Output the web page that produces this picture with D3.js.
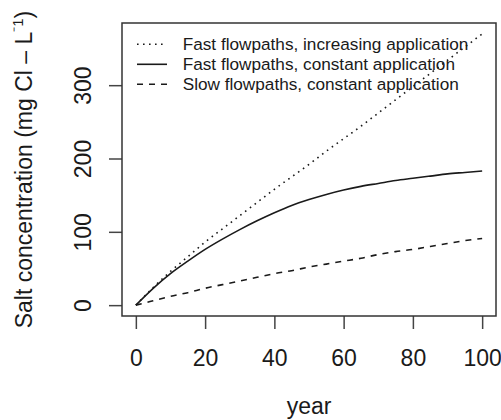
<!DOCTYPE html>
<html>
<head>
<meta charset="utf-8">
<script src="https://cdn.jsdelivr.net/npm/d3@7"></script>
<style>
  body { margin: 0; background: #fff; }
  svg { display: block; font-family: "Liberation Sans", Arial, sans-serif; }
</style>
</head>
<body>
<div id="chart"></div>
<script>
// Data
var years = [0, 5, 10, 15, 20, 25, 30, 35, 40, 45, 50, 55, 60, 65, 70, 75, 80, 85, 90, 95, 100];
var fastIncreasing = [0, 24, 46, 66, 86, 104, 122, 140, 158, 175, 192, 210, 227, 244, 262, 280, 298, 316, 334, 352, 370];
var fastConstant = [0, 23, 43, 60, 76, 90, 103, 115, 126, 136, 144, 151, 157, 162, 166, 170, 173, 176, 179, 181, 183];
var slowConstant = [0, 6, 12, 17, 23, 28, 33, 38, 43, 47, 52, 56, 60, 64, 69, 73, 76, 80, 84, 88, 91];
var xTicks = [0, 20, 40, 60, 80, 100];
var yTicks = [0, 100, 200, 300];
var legendLabels = [
  "Fast flowpaths, increasing application",
  "Fast flowpaths, constant application",
  "Slow flowpaths, constant application"
];

var svgWidth = 501;
var svgHeight = 420;

var margin = { top: 23, right: 5, bottom: 104, left: 122 };
var width = svgWidth - margin.left - margin.right;
var height = svgHeight - margin.top - margin.bottom;

var svg = d3.select("#chart")
  .append("svg")
  .attr("width", svgWidth)
  .attr("height", svgHeight);

var chartGroup = svg.append("g")
  .attr("transform", `translate(${margin.left}, ${margin.top})`);

// R style 4% padding on both axes
var xScale = d3.scaleLinear()
  .domain([-4, 104])
  .range([0, width]);

var yScale = d3.scaleLinear()
  .domain([-14.8, 384.8])
  .range([height, 0]);

// Axes
var bottomAxis = d3.axisBottom(xScale).tickValues(xTicks).tickSize(13).tickSizeOuter(0);
var leftAxis = d3.axisLeft(yScale).tickValues(yTicks).tickSize(13).tickSizeOuter(0);

var xAxisG = chartGroup.append("g")
  .attr("transform", `translate(0, ${height})`)
  .call(bottomAxis);

xAxisG.select(".domain").remove();
xAxisG.selectAll("line").attr("stroke", "#444").attr("stroke-width", 1.5);
xAxisG.selectAll("text")
  .attr("y", 49.7)
  .attr("dy", 0)
  .attr("font-size", 23)
  .attr("font-family", "Liberation Sans, Arial, sans-serif")
  .attr("fill", "#1a1a1a");

var yAxisG = chartGroup.append("g")
  .call(leftAxis);

yAxisG.select(".domain").remove();
yAxisG.selectAll("line").attr("stroke", "#444").attr("stroke-width", 1.5);
yAxisG.selectAll("text")
  .attr("x", 0)
  .attr("dy", 0)
  .attr("text-anchor", "middle")
  .attr("transform", "translate(-31.5, 0) rotate(-90)")
  .attr("font-size", 23)
  .attr("font-family", "Liberation Sans, Arial, sans-serif")
  .attr("fill", "#1a1a1a");

// Lines
var series = [
  { values: fastIncreasing, dash: "1.6,4.4" },
  { values: fastConstant, dash: null },
  { values: slowConstant, dash: "6,6" }
];

var line = d3.line()
  .x(d => xScale(d[0]))
  .y(d => yScale(d[1]))
  .curve(d3.curveMonotoneX);

series.forEach(function(s) {
  chartGroup.append("path")
    .datum(years.map((y, i) => [y, s.values[i]]))
    .attr("d", line)
    .attr("fill", "none")
    .attr("stroke", "#1a1a1a")
    .attr("stroke-width", 1.6)
    .attr("stroke-dasharray", s.dash);
});

// Box round the plot
chartGroup.append("rect")
  .attr("x", 0)
  .attr("y", 0)
  .attr("width", width)
  .attr("height", height)
  .attr("fill", "none")
  .attr("stroke", "#333")
  .attr("stroke-width", 1.5);

// Legend
var legend = chartGroup.append("g")
  .attr("transform", "translate(15, 21.3)");

legendLabels.forEach(function(label, i) {
  legend.append("line")
    .attr("x1", 0)
    .attr("x2", 30)
    .attr("y1", i * 20)
    .attr("y2", i * 20)
    .attr("stroke", "#1a1a1a")
    .attr("stroke-width", 1.6)
    .attr("stroke-dasharray", series[i].dash);

  legend.append("text")
    .attr("x", 45.7)
    .attr("y", i * 20 + 6.1)
    .attr("font-size", 17.2)
    .attr("fill", "#1a1a1a")
    .text(label);
});

// Axis titles
svg.append("text")
  .attr("x", margin.left + width / 2)
  .attr("y", 414)
  .attr("text-anchor", "middle")
  .attr("font-size", 23)
  .attr("fill", "#1a1a1a")
  .text("year");

var yTitle = svg.append("text")
  .attr("transform", `translate(31.7, ${margin.top + height / 2}) rotate(-90)`)
  .attr("text-anchor", "middle")
  .attr("font-size", 23)
  .attr("fill", "#1a1a1a");

yTitle.append("tspan").text("Salt concentration (mg Cl \u2013 L");
yTitle.append("tspan").attr("dy", -9).attr("font-size", 15).text("\u207B1");
yTitle.append("tspan").attr("dy", 9).text(")");
</script>
</body>
</html>
